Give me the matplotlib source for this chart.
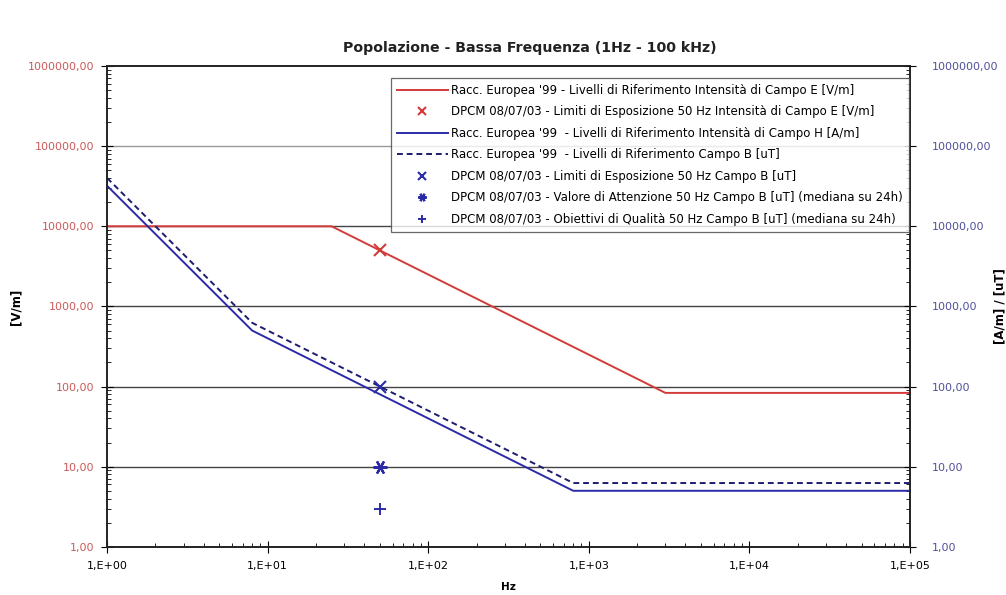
import math
import matplotlib
matplotlib.use("Agg")
import matplotlib.pyplot as plt
from matplotlib.ticker import FuncFormatter, LogLocator, NullFormatter

plt.rcParams['font.family'] = ['DejaVu Sans']

# Reference levels (Raccomandazione Europea '99)
f_E = [1, 25, 3000, 100000]
E_ref = [10000, 10000, 250000 / 3000, 250000 / 3000]

f_H = [1, 8, 800, 100000]
H_ref = [32000, 500, 5, 5]

f_B = [1, 8, 800, 100000]
B_ref = [40000, 625, 6.25, 6.25]

# DPCM 08/07/03 values at 50 Hz
f_dpcm = 50
E_limit = 5000
B_limit = 100
B_attention = 10
B_quality = 3

labels = [
    "Racc. Europea '99 - Livelli di Riferimento Intensità di Campo E [V/m]",
    "DPCM 08/07/03 - Limiti di Esposizione 50 Hz Intensità di Campo E [V/m]",
    "Racc. Europea '99  - Livelli di Riferimento Intensità di Campo H [A/m]",
    "Racc. Europea '99  - Livelli di Riferimento Campo B [uT]",
    "DPCM 08/07/03 - Limiti di Esposizione 50 Hz Campo B [uT]",
    "DPCM 08/07/03 - Valore di Attenzione 50 Hz Campo B [uT] (mediana su 24h)",
    "DPCM 08/07/03 - Obiettivi di Qualità 50 Hz Campo B [uT] (mediana su 24h)",
]

red = "#d43a3a"
blue = "#2b2ba8"
navy = "#1c1c70"

fig = plt.figure(figsize=(10.06, 5.95), dpi=100)
ax = fig.add_axes([0.1065, 0.081, 0.798, 0.808])
ax2 = ax.twinx()

ax.set_xscale("log")
ax.set_yscale("log")
ax2.set_yscale("log")
ax.set_xlim(1, 1e5)
ax.set_ylim(1, 1e6)
ax2.set_ylim(1, 1e6)

for y in [10, 100, 1000, 10000]:
    ax.axhline(y, color="#444444", lw=1.0, zorder=0)
ax.axhline(100000, color="#999999", lw=1.0, zorder=0)

h = []
h += ax.plot(f_E, E_ref, color=red, lw=1.4)
h += ax.plot([f_dpcm], [E_limit], ls="none", marker="x", color=red, ms=9, mew=1.5)
h += ax2.plot(f_H, H_ref, color=blue, lw=1.4)
h += ax2.plot(f_B, B_ref, color=navy, lw=1.4, ls=(0, (3, 2)))
h += ax2.plot([f_dpcm], [B_limit], ls="none", marker="x", color=blue, ms=9, mew=1.5)
h += ax2.plot([f_dpcm], [B_attention], ls="none", marker=(6, 2, 90), color=blue, ms=10, mew=1.6)
h += ax2.plot([f_dpcm], [B_quality], ls="none", marker="+", color=blue, ms=9, mew=1.4)

ax.set_title("Popolazione - Bassa Frequenza (1Hz - 100 kHz)", fontsize=10.2,
             fontweight="bold", color="#222222", pad=10, x=0.526)
ax.set_xlabel("Hz", fontsize=7.5, fontweight="bold", labelpad=8)
ax.set_ylabel("[V/m]", fontsize=8.5, fontweight="bold")
ax2.set_ylabel("[A/m] / [uT]", fontsize=8.5, fontweight="bold")
ax.yaxis.set_label_coords(-0.106, 0.5)
ax2.yaxis.set_label_coords(1.104, 0.5)

yfmt = FuncFormatter(lambda v, p: ("%.2f" % v).replace(".", ","))
ax.xaxis.set_major_formatter(FuncFormatter(lambda v, p: "1,E+%02d" % round(math.log10(v))))
ax.yaxis.set_major_formatter(yfmt)
ax2.yaxis.set_major_formatter(yfmt)
for a in (ax, ax2):
    a.yaxis.set_major_locator(LogLocator(base=10, numticks=10))
    a.yaxis.set_minor_locator(LogLocator(base=10, subs=range(2, 10), numticks=10))
    a.yaxis.set_minor_formatter(NullFormatter())
ax.xaxis.set_major_locator(LogLocator(base=10, numticks=10))
ax.xaxis.set_minor_locator(LogLocator(base=10, subs=range(2, 10), numticks=10))
ax.xaxis.set_minor_formatter(NullFormatter())

ax.tick_params(axis="x", which="major", direction="inout", length=8, labelsize=8, pad=6)
ax.tick_params(axis="x", which="minor", direction="in", length=3)
ax.tick_params(axis="y", which="major", direction="inout", length=8, labelsize=8,
               labelcolor="#cc5a5a", pad=5)
ax.tick_params(axis="y", which="minor", direction="in", length=3)
ax2.tick_params(axis="y", which="major", direction="inout", length=8, labelsize=8,
                labelcolor="#50509c", pad=12)
ax2.tick_params(axis="y", which="minor", direction="in", length=3)

for a in (ax, ax2):
    for s in a.spines.values():
        s.set_linewidth(1.2)
        s.set_color("#222222")

leg = ax.legend(h, labels, loc="upper right", bbox_to_anchor=(1.0, 0.978),
                fontsize=8.5, frameon=True, fancybox=False, handlelength=4.3,
                borderpad=0.5, labelspacing=0.72, handletextpad=0.3,
                borderaxespad=0.1, markerscale=0.6)
leg.get_frame().set_edgecolor("#444444")
leg.get_frame().set_linewidth(0.9)
leg.remove()
ax2.add_artist(leg)

fig.savefig("out.png", dpi=100)
